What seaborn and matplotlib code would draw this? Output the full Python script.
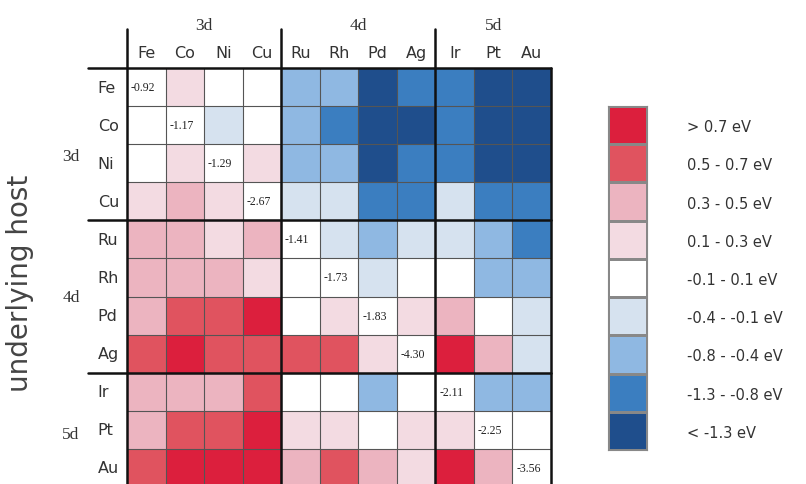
import numpy as np
import pandas as pd
import matplotlib
matplotlib.use("Agg")
import matplotlib.pyplot as plt
from matplotlib.colors import ListedColormap, BoundaryNorm
import seaborn as sns

# ---------------- data ----------------
elements = ["Fe", "Co", "Ni", "Cu", "Ru", "Rh", "Pd", "Ag", "Ir", "Pt", "Au"]
groups = ["3d", "4d", "5d"]
group_sizes = [4, 4, 3]

# segregation energies (eV), read as the bin each cell falls into; NaN = diagonal
nan = np.nan
row_Fe = [nan, 0.2, 0.0, 0.0, -0.6, -0.6, -1.5, -1.0, -1.0, -1.5, -1.5]
row_Co = [0.0, nan, -0.25, 0.0, -0.6, -1.0, -1.5, -1.5, -1.0, -1.5, -1.5]
row_Ni = [0.0, 0.2, nan, 0.2, -0.6, -0.6, -1.5, -1.0, -1.0, -1.5, -1.5]
row_Cu = [0.2, 0.4, 0.2, nan, -0.25, -0.25, -1.0, -1.0, -0.25, -1.0, -1.0]
row_Ru = [0.4, 0.4, 0.2, 0.4, nan, -0.25, -0.6, -0.25, -0.25, -0.6, -1.0]
row_Rh = [0.4, 0.4, 0.4, 0.2, 0.0, nan, -0.25, 0.0, 0.0, -0.6, -0.6]
row_Pd = [0.4, 0.6, 0.6, 0.8, 0.0, 0.2, nan, 0.2, 0.4, 0.0, -0.25]
row_Ag = [0.6, 0.8, 0.6, 0.6, 0.6, 0.6, 0.2, nan, 0.8, 0.4, -0.25]
row_Ir = [0.4, 0.4, 0.4, 0.6, 0.0, 0.0, -0.6, 0.0, nan, -0.6, -0.6]
row_Pt = [0.4, 0.6, 0.6, 0.8, 0.2, 0.2, 0.0, 0.2, 0.2, nan, 0.0]
row_Au = [0.6, 0.8, 0.8, 0.8, 0.4, 0.6, 0.4, 0.2, 0.8, 0.4, nan]

diagonal_values = [-0.92, -1.17, -1.29, -2.67, -1.41, -1.73, -1.83, -4.30, -2.11, -2.25, -3.56]

bin_edges = [-10, -1.3, -0.8, -0.4, -0.1, 0.1, 0.3, 0.5, 0.7, 10]
bin_colors = ["#1f4e8c", "#3b7ec0", "#8fb8e2", "#d6e2ef", "#ffffff",
              "#f3dbe2", "#ecb4c0", "#e0535f", "#dc1f3d"]
legend_labels = ["> 0.7 eV", "0.5 - 0.7 eV", "0.3 - 0.5 eV", "0.1 - 0.3 eV",
                 "-0.1 - 0.1 eV", "-0.4 - -0.1 eV", "-0.8 - -0.4 eV",
                 "-1.3 - -0.8 eV", "< -1.3 eV"]
legend_values = [0.8, 0.6, 0.4, 0.2, 0.0, -0.25, -0.6, -1.0, -1.5]

ylabel = "underlying host"

# ---------------- figure ----------------
sns.set_style("white")
plt.rcParams["font.family"] = ["DejaVu Sans"]
W, H = 806, 485
fig = plt.figure(figsize=(W / 100, H / 100), dpi=100)

def fx(px):
    return px / W

def fy(py):
    return 1 - py / H

text_col = "#333333"
serif = ["Liberation Serif", "DejaVu Serif"]

matrix = pd.DataFrame([row_Fe, row_Co, row_Ni, row_Cu, row_Ru, row_Rh,
                       row_Pd, row_Ag, row_Ir, row_Pt, row_Au],
                      index=elements, columns=elements)

cmap = ListedColormap(bin_colors)
norm = BoundaryNorm(bin_edges, cmap.N)

left, right, top, bottom = 127, 551, 69, 488
ax = fig.add_axes([fx(left), fy(bottom), fx(right - left), (bottom - top) / H])
sns.heatmap(matrix, cmap=cmap, norm=norm, cbar=False, ax=ax,
            xticklabels=False, yticklabels=False)
ax.set_xlim(0, 11)
ax.set_ylim(11, 0)
ax.set_xlabel("")
ax.set_ylabel("")
for s in ax.spines.values():
    s.set_visible(False)

n = len(elements)
# thin grid lines
for k in range(1, n):
    ax.plot([k, k], [0, n], color="#555555", lw=0.8, zorder=3)
    ax.plot([0, n], [k, k], color="#555555", lw=0.8, zorder=3)

# thick group boundaries
bounds = np.cumsum([0] + group_sizes)
for b in bounds:
    if b < n:
        ax.plot([b, b], [-1.02, n], color="#111111", lw=1.8, zorder=4, clip_on=False)
        ax.plot([-1.01, n], [b, b], color="#111111", lw=1.8, zorder=4, clip_on=False)
ax.plot([n, n], [0, n], color="#111111", lw=1.8, zorder=4, clip_on=False)

# diagonal values
for i, v in enumerate(diagonal_values):
    ax.text(i + 0.1, i + 0.5, f"{v:.2f}", ha="left", va="center",
            family=serif, fontsize=8.5, color="#222222", zorder=5)

# column / row labels
for j, el in enumerate(elements):
    ax.text(j + 0.5, -0.42, el, ha="center", va="center", fontsize=11.5,
            color=text_col, clip_on=False)
    ax.text(-0.76, j + 0.5, el, ha="left", va="center", fontsize=11.5,
            color=text_col, clip_on=False)

# group labels
group_row_pos = [2.3, 6.0, 9.6]
for g, name in enumerate(groups):
    c = (bounds[g] + bounds[g + 1]) / 2
    ax.text(c, -1.12, name, ha="center", va="center", family=serif,
            fontsize=12.5, color=text_col, clip_on=False)
    ax.text(-1.45, group_row_pos[g], name, ha="center", va="center", family=serif,
            fontsize=12.5, color=text_col, clip_on=False)

fig.text(fx(20), fy(283), ylabel, rotation=90, ha="center", va="center",
         fontsize=20, color="#444444")

# legend
lx0, lx1, ly0, ly1 = 608, 647, 107, 451
lax = fig.add_axes([fx(lx0), fy(ly1), fx(lx1 - lx0), (ly1 - ly0) / H])
sns.heatmap(pd.DataFrame({"v": legend_values}), cmap=cmap, norm=norm, cbar=False,
            ax=lax, xticklabels=False, yticklabels=legend_labels,
            linewidths=0.8, linecolor="#888888")
lax.yaxis.tick_right()
lax.tick_params(axis="y", length=0, pad=29, labelsize=10.5, labelcolor=text_col,
                labelrotation=0)
for lbl in lax.get_yticklabels():
    lbl.set_ha("left")
lax.set_ylabel("")
lax.set_xlabel("")
for s in lax.spines.values():
    s.set_visible(True)
    s.set_color("#888888")
    s.set_linewidth(0.8)

fig.savefig("out.png", dpi=100)
